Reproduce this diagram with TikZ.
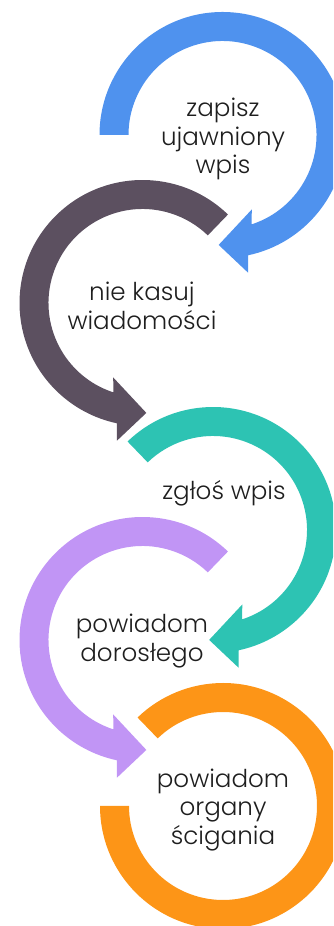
\documentclass[tikz,border=0pt]{standalone}
\usepackage{fontspec}
\setmainfont{Poppins Light}
\definecolor{arrowblue}{HTML}{4F92EE}
\definecolor{arrowdark}{HTML}{5C5060}
\definecolor{arrowteal}{HTML}{2DC3B3}
\definecolor{arrowpurple}{HTML}{C195F5}
\definecolor{arroworange}{HTML}{FD9517}
\definecolor{textgray}{HTML}{1E1E1E}
% one circular arrow round (0,0): start angle, colour
\newcommand{\ringarrow}[2]{%
  \fill[#2] (#1:123) arc[start angle=#1, end angle=-78, radius=123]
    -- (-79.5:140) -- (-92:110) -- (-68.5:80) -- (-72:94)
    arc[start angle=-72, end angle=#1, radius=94] -- cycle;}

\begin{document}
\begin{tikzpicture}[x=0.03cm, y=0.03cm,
    steptext/.style={font=\fontsize{21}{24.5}\selectfont, text=textgray, align=center}]
  \clip (0,0) rectangle (333,926);
  % centres of the rings
  \coordinate (c1) at (222.5,791);
  \coordinate (c2) at (142.5,623);
  \coordinate (c3) at (213,396);
  \coordinate (c4) at (142.5,286);
  \coordinate (c5) at (223,120);
  % arrows
  \begin{scope}[shift={(c1)}]
    \ringarrow{180}{arrowblue}
  \end{scope}
  \begin{scope}[shift={(c2)}, xscale=-1]
    \ringarrow{134}{arrowdark}
  \end{scope}
  \begin{scope}[shift={(c3)}]
    \ringarrow{134}{arrowteal}
  \end{scope}
  \begin{scope}[shift={(c4)}, xscale=-1]
    \ringarrow{134}{arrowpurple}
  \end{scope}
  \begin{scope}[shift={(c5)}]
    \fill[arroworange] (180:123) arc[start angle=180, end angle=494, radius=123]
      -- (134:94) arc[start angle=494, end angle=180, radius=94] -- cycle;
  \end{scope}
  % texts
  \node[steptext] (zapisz) at (223,787) {zapisz\\ujawniony\\wpis};
  \node[steptext] (kasuj) at (142,620) {nie kasuj\\wiadomości};
  \node[steptext] (zglos) at (224,433) {zgłoś wpis};
  \node[steptext] (dorosly) at (142,285) {powiadom\\dorosłego};
  \node[steptext] (organy) at (223,116) {powiadom\\organy\\ścigania};
\end{tikzpicture}
\end{document}
